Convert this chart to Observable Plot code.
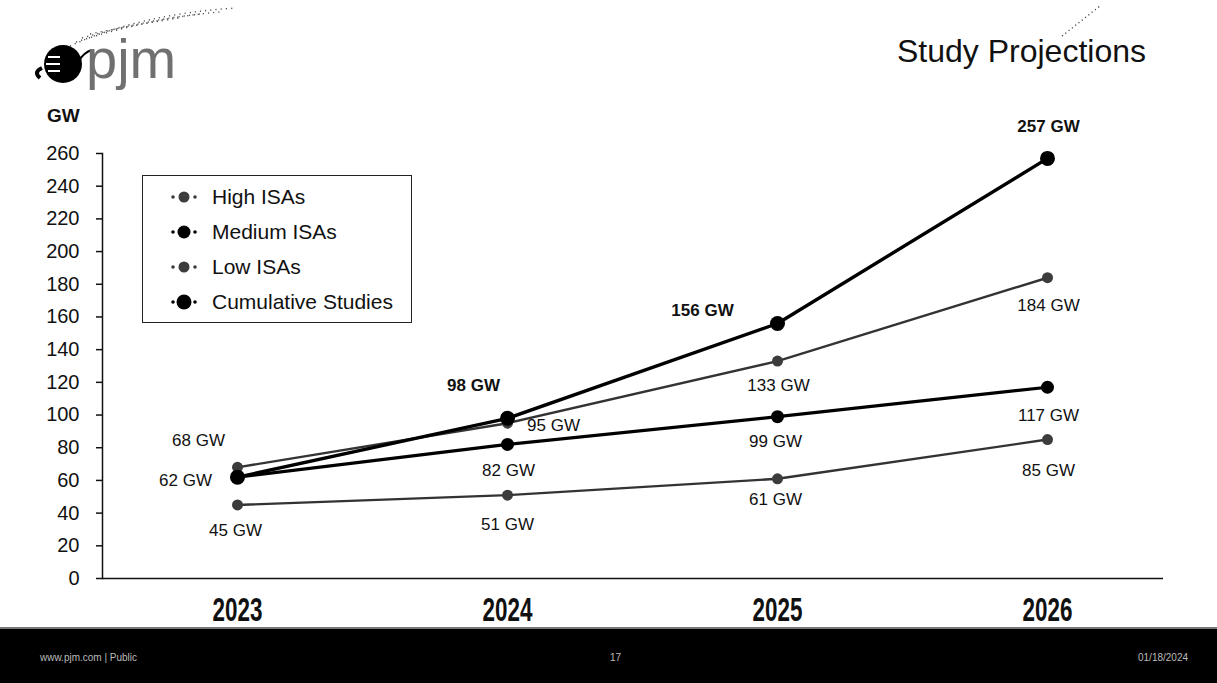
<!DOCTYPE html>
<html>
<head>
<meta charset="utf-8">
<script src="https://cdn.jsdelivr.net/npm/d3@7"></script>
<script src="https://cdn.jsdelivr.net/npm/@observablehq/plot@0.6"></script>
<style>
  body { margin: 0; background: #fff; font-family: "Liberation Sans", Arial, sans-serif; }
  #page { position: relative; width: 1217px; height: 683px; overflow: hidden; background: #fff; }
  #logo { position: absolute; left: 0; top: 0; }
  #deco { position: absolute; left: 1040px; top: 0; }
  #title { position: absolute; right: 71px; top: 35px; font-size: 32px; line-height: 32px; color: #111; }
  #unit { position: absolute; left: 47px; top: 106px; font-size: 19px; line-height: 19px; font-weight: bold; color: #111; }
  #chart { position: absolute; left: 0; top: 0; }
  #legend { position: absolute; left: 142px; top: 175px; width: 270px; height: 148px; border: 1.5px solid #222;
            box-sizing: border-box; padding-top: 3px; background: #fff; }
  #legend .row { display: flex; align-items: center; height: 35px; padding-left: 24px; font-size: 21px; color: #111; }
  #legend .row svg { margin-right: 9px; }
  #footer { position: absolute; left: 0; top: 627px; width: 1217px; height: 56px; background: #000;
            border-top: 2px solid #777; box-sizing: border-box; color: #bbb; font-size: 10px; }
  #footer span { position: absolute; top: 23px; }
</style>
</head>
<body>
<div id="page">
  <svg id="logo" width="300" height="100">
    <g fill="none" stroke="#555" stroke-width="1.4" stroke-dasharray="1.2 4">
      <path d="M70 46 Q140 14 236 8"/>
      <path d="M76 42 Q150 18 220 12"/>
      <path d="M82 38 Q145 20 200 14"/>
      <path d="M90 34 Q150 22 180 18"/>
    </g>
    <circle cx="63" cy="64" r="19" fill="#000"/>
    <g stroke="#fff" stroke-width="2">
      <line x1="48" y1="57" x2="60" y2="57"/>
      <line x1="46" y1="64" x2="60" y2="64"/>
      <line x1="48" y1="71" x2="60" y2="71"/>
    </g>
    <path d="M40 78 Q33 72 42 68" stroke="#000" stroke-width="4" fill="none"/>
    <path d="M78 62 Q84 52 92 50" stroke="#000" stroke-width="2" fill="none"/>
    <text x="86" y="78" font-size="56" font-family="Liberation Sans, Arial, sans-serif" fill="#707070">pjm</text>
  </svg>
  <svg id="deco" width="80" height="40">
    <path d="M22 36 L60 6" stroke="#444" stroke-width="1.3" stroke-dasharray="1.2 3" fill="none"/>
  </svg>
  <div id="title">Study Projections</div>
  <div id="unit">GW</div>
  <div id="chart"></div>
  <div id="legend"></div>
  <div id="footer">
    <span style="left:40px">www.pjm.com | Public</span>
    <span style="left:610px">17</span>
    <span style="left:1138px">01/18/2024</span>
  </div>
</div>
<script>
// Study years on the horizontal axis
const years = ["2023", "2024", "2025", "2026"];

// Projected capacity (GW) for each study scenario
const highISAs = [68, 95, 133, 184];
const mediumISAs = [62, 82, 99, 117];
const lowISAs = [45, 51, 61, 85];
const cumulativeStudies = [62, 98, 156, 257];

// Vertical axis ticks (GW)
const yTicks = [0, 20, 40, 60, 80, 100, 120, 140, 160, 180, 200, 220, 240, 260];

const seriesNames = ["High ISAs", "Medium ISAs", "Low ISAs", "Cumulative Studies"];
const seriesValues = [highISAs, mediumISAs, lowISAs, cumulativeStudies];

// Drawing style per series; label offsets are [dx, dy] in pixels, null = no label
const look = {
  "High ISAs":          {stroke: "#333", width: 2.4, r: 5.5, fill: "#3c3c3c", bold: false,
                         offsets: [[-39, -27], [46, 2], [1, 24], [1, 28]]},
  "Medium ISAs":        {stroke: "#000", width: 3.2, r: 6.5, fill: "#000", bold: false,
                         offsets: [[-52, 3], [1, 26], [-2, 25], [1, 28]]},
  "Low ISAs":           {stroke: "#333", width: 2.4, r: 5.5, fill: "#3c3c3c", bold: false,
                         offsets: [[-2, 26], [0, 29], [-2, 21], [1, 31]]},
  "Cumulative Studies": {stroke: "#000", width: 3.4, r: 7.5, fill: "#000", bold: true,
                         offsets: [null, [-34, -33], [-75, -13], [1, -32]]}
};

const rows = seriesNames.flatMap((name, s) =>
  years.map((year, i) => ({series: name, year, value: seriesValues[s][i], index: i}))
);

const fontFamily = "Liberation Sans, Arial, sans-serif";
const marks = [];

// Lines, then markers on top
for (const name of seriesNames) {
  const d = rows.filter(r => r.series === name);
  const st = look[name];
  marks.push(Plot.line(d, {x: "year", y: "value", stroke: st.stroke, strokeWidth: st.width}));
}
for (const name of seriesNames) {
  const d = rows.filter(r => r.series === name);
  const st = look[name];
  marks.push(Plot.dot(d, {x: "year", y: "value", r: st.r, fill: st.fill, stroke: "none"}));
}

// Value labels, one per point
for (const name of seriesNames) {
  const st = look[name];
  rows.filter(r => r.series === name).forEach(r => {
    const off = st.offsets[r.index];
    if (!off) return;
    marks.push(Plot.text([r], {
      x: "year", y: "value", text: d => `${d.value} GW`,
      dx: off[0], dy: off[1], fontSize: 17, fontFamily,
      fontWeight: st.bold ? "bold" : "normal", fill: "#111"
    }));
  });
}

const chart = Plot.plot({
  width: 1217,
  height: 642,
  marginTop: 153,
  marginBottom: 64,
  marginLeft: 102,
  marginRight: 54,
  style: {background: "transparent", color: "#111", fontFamily},
  x: {type: "point", domain: years, padding: 0, insetLeft: 135, insetRight: 116},
  y: {domain: [0, 260]},
  marks: [
    Plot.frame({anchor: "left", stroke: "#111", strokeWidth: 1.5}),
    Plot.ruleY([0], {stroke: "#111", strokeWidth: 1.5}),
    Plot.axisY({ticks: yTicks, tickSize: 6, tickPadding: 17, fontSize: 20, label: null,
                fontFamily, stroke: "#111", strokeWidth: 1.5}),
    Plot.axisX({tickSize: 0, tickPadding: 18, fontSize: 34, fontWeight: "bold", label: null, fontFamily}),
    ...marks
  ]
});
document.getElementById("chart").appendChild(chart);

// Narrow the bold year labels into a condensed face (horizontal squeeze only)
d3.select(chart).selectAll("g[aria-label='x-axis tick label'] text").each(function () {
  let tr = this.getAttribute("transform") || "";
  const xa = parseFloat(this.getAttribute("x"));
  if (!isNaN(xa)) {
    tr = `translate(${xa},0) ${tr}`;
    this.setAttribute("x", 0);
  }
  this.setAttribute("transform", `${tr} scale(0.66,1)`);
});

// Legend
const legend = d3.select("#legend");
seriesNames.forEach(name => {
  const st = look[name];
  const row = legend.append("div").attr("class", "row");
  const svg = row.append("svg").attr("width", 36).attr("height", 20);
  svg.append("circle").attr("cx", 6).attr("cy", 10).attr("r", 1.8).attr("fill", st.fill);
  svg.append("circle").attr("cx", 28).attr("cy", 10).attr("r", 1.8).attr("fill", st.fill);
  svg.append("circle").attr("cx", 17).attr("cy", 10).attr("r", st.r).attr("fill", st.fill);
  row.append("span").text(name);
});
</script>
</body>
</html>
